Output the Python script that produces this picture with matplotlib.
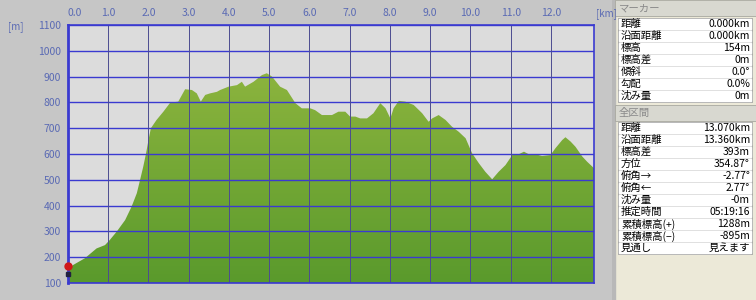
import numpy as np
import matplotlib
matplotlib.use("Agg")
import matplotlib.pyplot as plt
from matplotlib.patches import Rectangle

plt.rcParams['font.family'] = ['Noto Sans CJK JP', 'DejaVu Sans']

#----------------------------------------------------------------
# Profile data
dist_km = [0.00, 0.13, 0.42, 0.71, 0.92, 1.04, 1.21, 1.42, 1.58, 1.71, 1.79, 1.87,
           1.94, 2.00, 2.06, 2.20, 2.37, 2.54, 2.74, 2.91, 3.08, 3.20, 3.30, 3.41,
           3.53, 3.70, 3.78, 3.99, 4.20, 4.32, 4.40, 4.61, 4.82, 4.94, 5.07, 5.27,
           5.44, 5.65, 5.81, 6.02, 6.14, 6.31, 6.56, 6.72, 6.89, 7.01, 7.14, 7.26,
           7.43, 7.59, 7.76, 7.89, 8.01, 8.09, 8.22, 8.38, 8.59, 8.80, 8.96, 9.05,
           9.21, 9.38, 9.54, 9.71, 9.88, 10.04, 10.21, 10.37, 10.54, 10.70, 10.87,
           11.04, 11.20, 11.33, 11.45, 11.62, 11.78, 11.99, 12.11, 12.28, 12.36,
           12.49, 12.61, 12.78, 12.90, 13.07]
elev_m = [154, 170, 196, 234, 247, 267, 299, 344, 396, 448, 499, 551,
          603, 654, 700, 732, 764, 799, 803, 851, 848, 835, 803, 829,
          835, 841, 848, 861, 867, 880, 861, 880, 906, 913, 900, 861,
          848, 797, 777, 777, 770, 751, 751, 764, 764, 745, 745, 738,
          738, 758, 797, 777, 738, 777, 806, 803, 790, 758, 725, 738,
          751, 732, 706, 686, 661, 603, 564, 531, 502, 531, 557,
          596, 599, 609, 599, 599, 592, 596, 622, 654, 665,
          648, 628, 590, 570, 545]

x_ticks = [0, 1, 2, 3, 4, 5, 6, 7, 8, 9, 10, 11, 12]
y_ticks = [100, 200, 300, 400, 500, 600, 700, 800, 900, 1000, 1100]

# Side panel values
marker_labels = ["距離", "沿面距離", "標高", "標高差", "傾斜", "勾配", "沈み量"]
marker_values = ["0.000km", "0.000km", "154m", "0m", "0.0°", "0.0%", "0m"]
total_labels = ["距離", "沿面距離", "標高差", "方位", "俯角→", "俯角←", "沈み量",
                "推定時間", "累積標高(+)", "累積標高(−)", "見通し"]
total_values = ["13.070km", "13.360km", "393m", "354.87°", "-2.77°", "2.77°", "-0m",
                "05:19:16", "1288m", "-895m", "見えます"]
#----------------------------------------------------------------

tick_col = '#5a6ab4'
blue = '#3a3ad0'

fig = plt.figure(figsize=(7.56, 3.0), dpi=100)
fig.patch.set_facecolor('#c6c6c6')

ax = fig.add_axes([68/756, 1 - 283/300, (594 - 68)/756, (283 - 25)/300])
ax.set_facecolor('#dcdcdc')

# gradient green fill clipped to the profile
poly = ax.fill_between(dist_km, elev_m, 100, color='none', lw=0)
grad = np.linspace(0, 1, 256).reshape(-1, 1)
cmap = matplotlib.colors.LinearSegmentedColormap.from_list('g', ['#8cb43e', '#5a9a2c'])
img = ax.imshow(grad, extent=[0, 13.07, 100, 920], origin='upper', aspect='auto',
                cmap=cmap, zorder=1)
img.set_clip_path(poly.get_paths()[0], transform=ax.transData)
ax.set_xlim(0, 13.07)
ax.set_ylim(100, 1100)

# grid
for y in y_ticks:
    ax.axhline(y, color=blue, lw=1.0, zorder=2)
for x in x_ticks[1:]:
    ax.axvline(x, color='#4c4c90', lw=0.7, zorder=2)

for s in ax.spines.values():
    s.set_color(blue)
    s.set_linewidth(1.2)
ax.spines['left'].set_linewidth(2.0)

ax.xaxis.tick_top()
ax.set_xticks(x_ticks)
ax.set_xticklabels(["%.1f" % v for v in x_ticks])
ax.set_yticks(y_ticks)
ax.tick_params(length=0, labelsize=7.5, colors=tick_col, pad=5)
ax.get_xticklabels()[0].set_horizontalalignment('left')

# start marker
ax.plot([0.0], [165], 'o', color='#d01818', ms=5, clip_on=False, zorder=5)
ax.plot([0.0], [135], 's', color='#202040', ms=2.5, clip_on=False, zorder=5)

fig.text(8/756, 1 - 27/300, "[m]", color=tick_col, fontsize=7, va='center')
fig.text(596/756, 1 - 14/300, "[km]", color=tick_col, fontsize=7, va='center')

#----------------------------------------------------------------
# Side panel
pan = fig.add_axes([612/756, 0, 144/756, 1])
pan.set_xlim(612, 756)
pan.set_ylim(300, 0)
pan.axis('off')
pan.add_patch(Rectangle((612, 0), 144, 300, color='#ece9d8', zorder=0))
pan.add_patch(Rectangle((612, 0), 3, 300, color='#b8b8b8', zorder=1))


def header(y0, text):
    pan.add_patch(Rectangle((615, y0), 141, 16, facecolor='#d8d8d0',
                            edgecolor='#a8a8a0', lw=0.6, zorder=1))
    pan.text(619, y0 + 8, text, fontsize=7.5, color='#8a8a8a', va='center')


def rows(y0, labels, values):
    n = len(labels)
    pan.add_patch(Rectangle((618, y0), 134, 12 * n, facecolor='#d0d0d0',
                            edgecolor='#a0a0a0', lw=0.6, zorder=1))
    for i, (lab, val) in enumerate(zip(labels, values)):
        yy = y0 + 12 * i
        pan.add_patch(Rectangle((619, yy + 0.6), 132, 10.8, color='white', zorder=2))
        pan.text(621, yy + 6, lab, fontsize=7.5, color='black', va='center', zorder=3)
        pan.text(750, yy + 6, val, fontsize=7.5, color='black', va='center',
                 ha='right', zorder=3)


header(0, "マーカー")
rows(18, marker_labels, marker_values)
header(105, "全区間")
rows(122, total_labels, total_values)

fig.savefig("out.png", dpi=100, facecolor=fig.get_facecolor())
